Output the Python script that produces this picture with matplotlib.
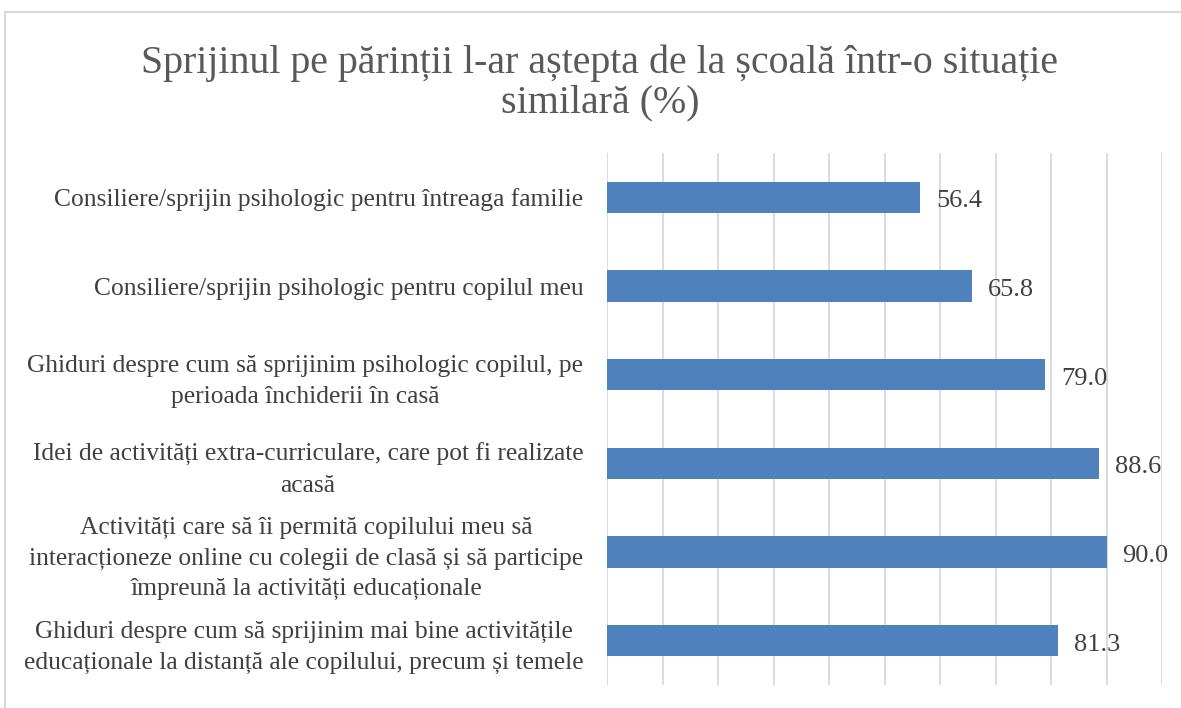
import matplotlib.pyplot as plt
from matplotlib.patches import Rectangle

TITLE = "Sprijinul pe părinții l-ar aștepta de la școală într-o situație\nsimilară (%)"

CATEGORIES = [
    "Consiliere/sprijin psihologic pentru întreaga familie",
    "Consiliere/sprijin psihologic pentru copilul meu",
    "Ghiduri despre cum să sprijinim psihologic copilul, pe\nperioada închiderii în casă",
    "Idei de activități extra-curriculare, care pot fi realizate\nacasă",
    "Activități care să îi permită copilului meu să\ninteracționeze online cu colegii de clasă și să participe\nîmpreună la activități educaționale",
    "Ghiduri despre cum să sprijinim mai bine activitățile\neducaționale la distanță ale copilului, precum și temele",
]
VALUES = [56.4, 65.8, 79.0, 88.6, 90.0, 81.3]

BAR_COLOR = "#4f81bd"
TEXT_COLOR = "#404040"
FONT = "Liberation Serif"

plt.rcParams["font.family"] = FONT

fig = plt.figure(figsize=(11.81, 7.08), dpi=100)
ax = fig.add_axes([607 / 1181, 1 - 685 / 708, 555 / 1181, 532 / 708])

positions = list(range(len(CATEGORIES)))
ax.barh(positions, VALUES, height=0.35, color=BAR_COLOR, zorder=3)
ax.set_ylim(len(CATEGORIES) - 0.5, -0.5)
ax.set_xlim(0, 100)
ax.set_xticks(range(0, 101, 10))
ax.set_xticklabels([])
ax.tick_params(axis="x", length=0)
ax.tick_params(axis="y", length=0, pad=17)
ax.set_yticks(positions)
ax.set_yticklabels(CATEGORIES, fontsize=18.4, color=TEXT_COLOR)
for label in ax.get_yticklabels():
    label.set_multialignment("center")
    label.set_linespacing(1.5)
ax.grid(axis="x", color="#d9d9d9", linewidth=1.3, zorder=0)
for spine in ax.spines.values():
    spine.set_visible(False)

for pos, value in zip(positions, VALUES):
    ax.annotate(f"{value:.1f}", (value, pos), xytext=(16, -4),
                textcoords="offset pixels", ha="left", va="center",
                fontsize=19, color=TEXT_COLOR)

fig.text(0.508, 1 - 83 / 708, TITLE, ha="center", va="center", fontsize=28.7,
         color="#595959", linespacing=1.1)

fig.patches.append(Rectangle((5 / 1181, -0.05), 1.2, 1 - 12 / 708 + 0.05,
                             transform=fig.transFigure, fill=False,
                             edgecolor="#d9d9d9", linewidth=1.5))

fig.savefig("out.png", dpi=100)
